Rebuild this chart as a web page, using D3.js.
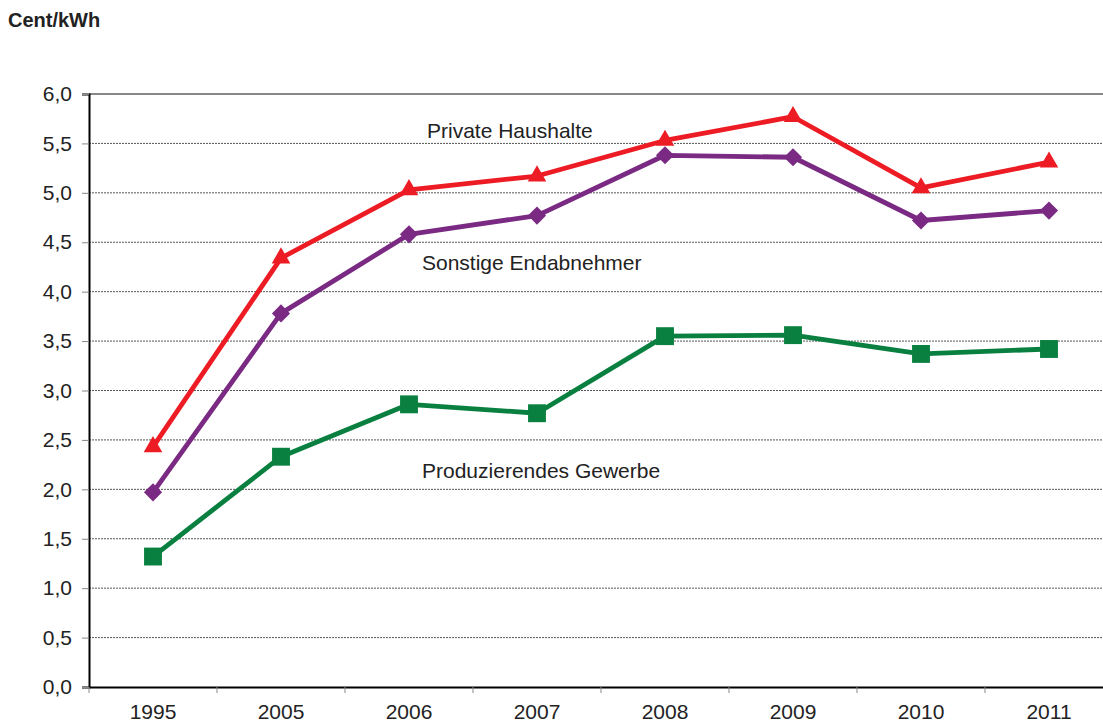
<!DOCTYPE html>
<html><head><meta charset="utf-8">
<script src="https://cdn.jsdelivr.net/npm/d3@7"></script>
<style>
html,body{margin:0;padding:0;background:#fff;}
svg{display:block;font-family:"Liberation Sans",Arial,sans-serif;}
</style></head>
<body><svg id="c" width="1103" height="722"></svg>
<script>
const years = ["1995","2005","2006","2007","2008","2009","2010","2011"];
const privateHaushalte = [2.43,4.34,5.03,5.17,5.53,5.77,5.05,5.31];
const sonstigeEndabnehmer = [1.97,3.78,4.58,4.77,5.38,5.36,4.72,4.82];
const produzierendesGewerbe = [1.32,2.33,2.86,2.77,3.55,3.56,3.37,3.42];
const yTicks = [0,0.5,1,1.5,2,2.5,3,3.5,4,4.5,5,5.5,6];
const seriesNames = ["Private Haushalte","Sonstige Endabnehmer","Produzierendes Gewerbe"];

(function(){
const svg = d3.select("#c");
const mL = 89, mR = 1113, mT = 94, mB = 687;
const x = d3.scaleBand().domain(years).range([mL, mR]);
const y = d3.scaleLinear().domain([0,6]).range([mB, mT]);
const fmt = v => d3.format(".1f")(v).replace(".", ",");
const FF = "Liberation Sans, Arial, sans-serif";

// gridlines
svg.append("g").selectAll("line").data(yTicks.filter(v => v > 0 && v < 6)).join("line")
  .attr("x1", mL).attr("x2", 1103).attr("y1", d => y(d)).attr("y2", d => y(d))
  .attr("stroke", "#555").attr("stroke-width", 1).attr("stroke-dasharray", "2,1");
svg.append("line").attr("x1", mL).attr("x2", 1103).attr("y1", y(6)).attr("y2", y(6))
  .attr("stroke", "#888").attr("stroke-width", 2);

// y axis
const ya = d3.axisLeft(y).tickValues(yTicks).tickFormat(fmt).tickSize(7).tickPadding(10);
const gy = svg.append("g").attr("transform", `translate(${mL},0)`).call(ya);
gy.select(".domain").attr("stroke", "#000").attr("stroke-width", 2);
gy.selectAll(".tick line").attr("stroke", "#888");
gy.selectAll("text").attr("font-size", 21).attr("fill", "#222").attr("font-family", FF);

// x axis
const xa = d3.axisBottom(x).tickSize(0).tickPadding(17);
const gx = svg.append("g").attr("transform", `translate(0,${mB})`).call(xa);
gx.select(".domain").attr("stroke", "#000").attr("stroke-width", 2);
gx.selectAll("text").attr("font-size", 21).attr("fill", "#222").attr("font-family", FF);
svg.append("g").selectAll("line").data(years).join("line")
  .attr("x1", d => x(d)).attr("x2", d => x(d)).attr("y1", mB).attr("y2", mB + 6)
  .attr("stroke", "#888").attr("stroke-width", 1);

const cx = i => x(years[i]) + x.bandwidth()/2;
const line = d3.line().x((d,i) => cx(i)).y(d => y(d));

const series = [
  {vals: produzierendesGewerbe, color: "#0A8040", sym: d3.symbolSquare, size: 320, rot: 0},
  {vals: sonstigeEndabnehmer, color: "#7A2A82", sym: d3.symbolSquare, size: 165, rot: 45},
  {vals: privateHaushalte, color: "#ED1C24", sym: d3.symbolTriangle, size: 150, rot: 0},
];
series.forEach(s => {
  svg.append("path").datum(s.vals).attr("d", line).attr("fill", "none")
    .attr("stroke", s.color).attr("stroke-width", 4.8).attr("stroke-linejoin", "round");
  svg.append("g").selectAll("path").data(s.vals).join("path")
    .attr("d", d3.symbol().type(s.sym).size(s.size))
    .attr("transform", (d,i) => `translate(${cx(i)},${y(d)}) rotate(${s.rot})`)
    .attr("fill", s.color);
});

// labels
const labels = [
  {t: seriesNames[0], x: 427, y: 138},
  {t: seriesNames[1], x: 422, y: 270},
  {t: seriesNames[2], x: 422, y: 478},
];
svg.append("g").selectAll("text").data(labels).join("text")
  .attr("x", d => d.x).attr("y", d => d.y).text(d => d.t)
  .attr("font-size", 21).attr("fill", "#222");

svg.append("text").attr("x", 8).attr("y", 27).text("Cent/kWh")
  .attr("font-size", 20).attr("font-weight", "bold").attr("fill", "#222");
})();
</script></body></html>
